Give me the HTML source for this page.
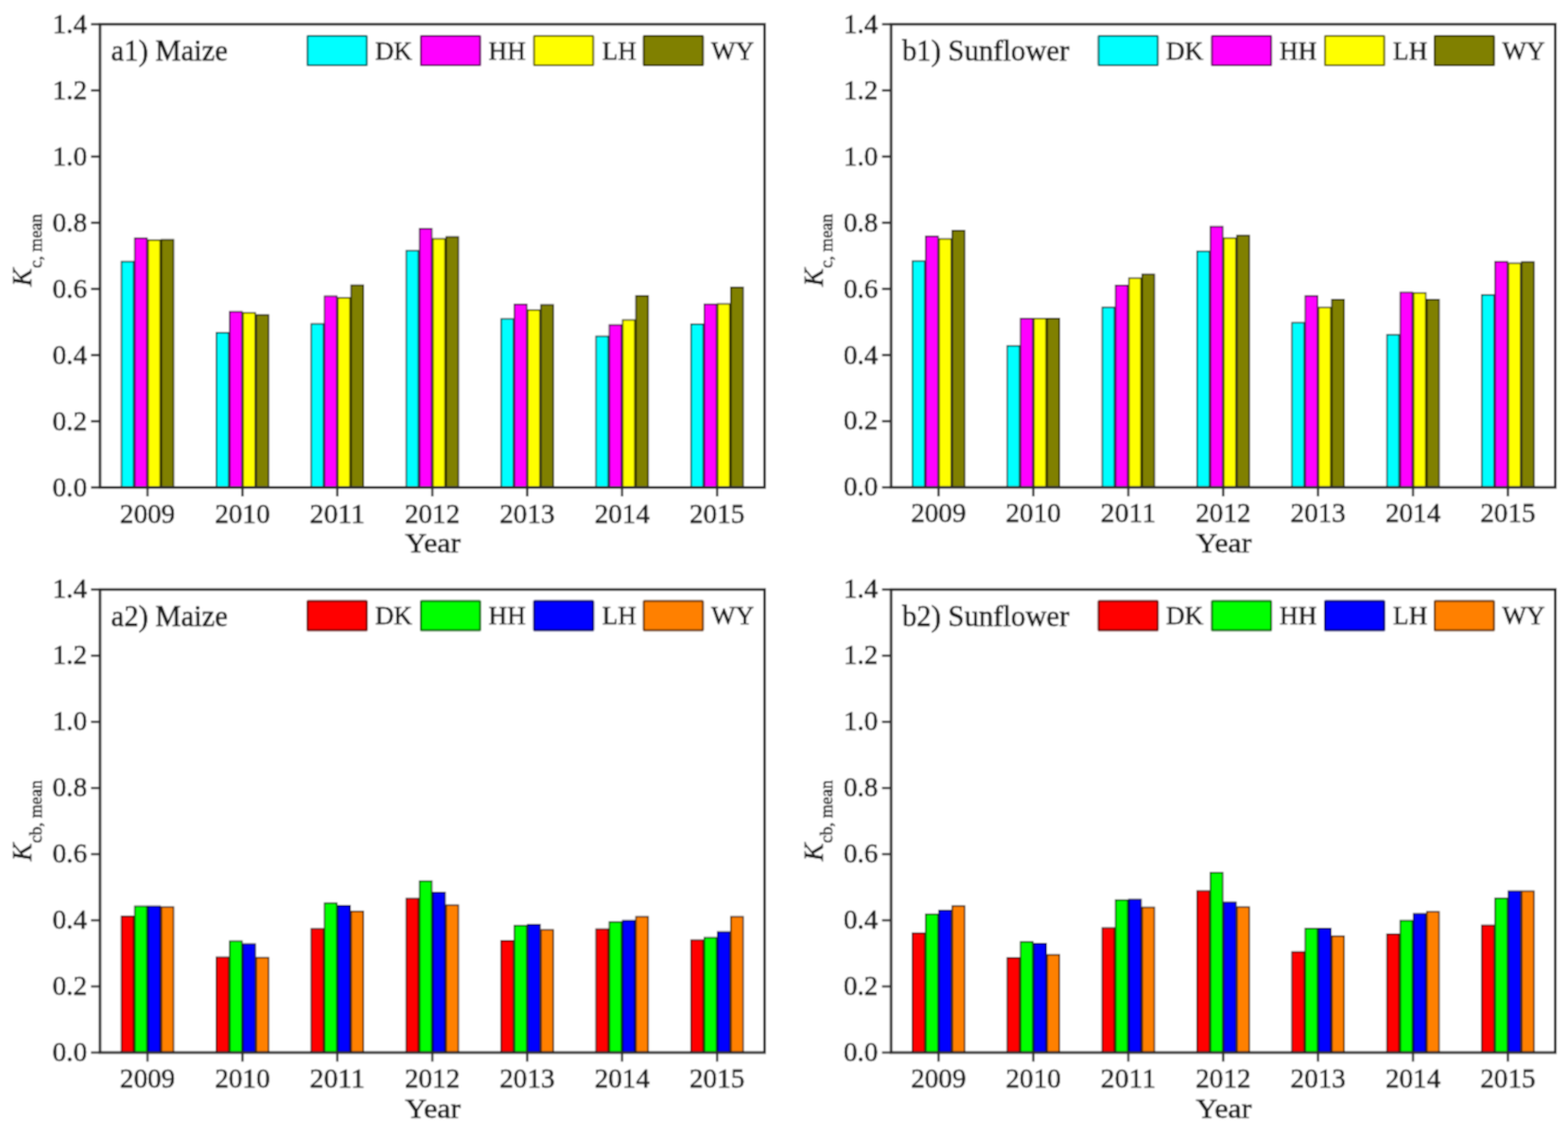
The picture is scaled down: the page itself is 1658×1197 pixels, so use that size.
<!DOCTYPE html>
<html><head><meta charset="utf-8"><title>Kc mean</title>
<style>
html,body{margin:0;padding:0;background:#fff;}
body{width:1658px;height:1197px;overflow:hidden;}
svg{display:block;}
text{font-family:'Liberation Serif', 'Times New Roman', serif;fill:#1a1a1a;stroke:#1a1a1a;stroke-width:0.55px;}
.tl{font-size:29.9px;}
.xt{font-size:30.2px;}
.pt{font-size:31px;}
.lg{font-size:27.2px;}
.yk{font-size:30.5px;font-style:italic;}
.ys{font-size:18.4px;}
.b{stroke-width:1.5;}
.lb{stroke-width:2;}
.fr{fill:none;stroke:#2a2a2a;stroke-width:2.8;}
.tk{stroke:#2a2a2a;stroke-width:2.4;}
</style></head><body>
<svg width="1658" height="1197" viewBox="0 0 1658 1197">
<defs><filter id="bl" x="0" y="0" width="1658" height="1197" filterUnits="userSpaceOnUse"><feConvolveMatrix order="3" kernelMatrix="1 2 1 2 4 2 1 2 1" divisor="16" edgeMode="duplicate"/></filter></defs>
<g filter="url(#bl)">
<rect width="1658" height="1197" fill="#fff"/>
<g><rect x="128.49" y="276.6" width="12.85" height="238.8" fill="#00ffff" stroke="#003f3f" class="b"/><rect x="142.54" y="251.9" width="12.85" height="263.5" fill="#ff00ff" stroke="#3f003f" class="b"/><rect x="156.59" y="253.9" width="12.85" height="261.5" fill="#ffff00" stroke="#3f3f00" class="b"/><rect x="170.64" y="253.5" width="12.85" height="261.9" fill="#808000" stroke="#202000" class="b"/><rect x="228.86" y="351.8" width="12.85" height="163.6" fill="#00ffff" stroke="#003f3f" class="b"/><rect x="242.91" y="329.6" width="12.85" height="185.8" fill="#ff00ff" stroke="#3f003f" class="b"/><rect x="256.96" y="330.7" width="12.85" height="184.7" fill="#ffff00" stroke="#3f3f00" class="b"/><rect x="271.01" y="333.1" width="12.85" height="182.3" fill="#808000" stroke="#202000" class="b"/><rect x="329.23" y="342.5" width="12.85" height="172.9" fill="#00ffff" stroke="#003f3f" class="b"/><rect x="343.28" y="313.3" width="12.85" height="202.1" fill="#ff00ff" stroke="#3f003f" class="b"/><rect x="357.33" y="314.9" width="12.85" height="200.5" fill="#ffff00" stroke="#3f3f00" class="b"/><rect x="371.38" y="301.6" width="12.85" height="213.8" fill="#808000" stroke="#202000" class="b"/><rect x="429.6" y="265.2" width="12.85" height="250.2" fill="#00ffff" stroke="#003f3f" class="b"/><rect x="443.65" y="241.8" width="12.85" height="273.6" fill="#ff00ff" stroke="#3f003f" class="b"/><rect x="457.7" y="252.5" width="12.85" height="262.9" fill="#ffff00" stroke="#3f3f00" class="b"/><rect x="471.75" y="250.5" width="12.85" height="264.9" fill="#808000" stroke="#202000" class="b"/><rect x="529.97" y="337.3" width="12.85" height="178.1" fill="#00ffff" stroke="#003f3f" class="b"/><rect x="544.02" y="321.9" width="12.85" height="193.5" fill="#ff00ff" stroke="#3f003f" class="b"/><rect x="558.07" y="327.8" width="12.85" height="187.6" fill="#ffff00" stroke="#3f3f00" class="b"/><rect x="572.12" y="322.4" width="12.85" height="193" fill="#808000" stroke="#202000" class="b"/><rect x="630.34" y="355.6" width="12.85" height="159.8" fill="#00ffff" stroke="#003f3f" class="b"/><rect x="644.39" y="343.6" width="12.85" height="171.8" fill="#ff00ff" stroke="#3f003f" class="b"/><rect x="658.44" y="338.4" width="12.85" height="177" fill="#ffff00" stroke="#3f3f00" class="b"/><rect x="672.49" y="312.9" width="12.85" height="202.5" fill="#808000" stroke="#202000" class="b"/><rect x="730.71" y="342.8" width="12.85" height="172.6" fill="#00ffff" stroke="#003f3f" class="b"/><rect x="744.76" y="321.7" width="12.85" height="193.7" fill="#ff00ff" stroke="#3f003f" class="b"/><rect x="758.81" y="321.4" width="12.85" height="194" fill="#ffff00" stroke="#3f3f00" class="b"/><rect x="772.86" y="303.9" width="12.85" height="211.5" fill="#808000" stroke="#202000" class="b"/><rect x="105.8" y="25.7" width="702.6" height="489.7" class="fr"/><line x1="96.3" y1="515.4" x2="105.8" y2="515.4" class="tk"/><text x="92" y="524.5" text-anchor="end" class="tl" textLength="36.5" lengthAdjust="spacingAndGlyphs">0.0</text><line x1="96.3" y1="445.44" x2="105.8" y2="445.44" class="tk"/><text x="92" y="454.54" text-anchor="end" class="tl" textLength="36.5" lengthAdjust="spacingAndGlyphs">0.2</text><line x1="96.3" y1="375.49" x2="105.8" y2="375.49" class="tk"/><text x="92" y="384.59" text-anchor="end" class="tl" textLength="36.5" lengthAdjust="spacingAndGlyphs">0.4</text><line x1="96.3" y1="305.53" x2="105.8" y2="305.53" class="tk"/><text x="92" y="314.63" text-anchor="end" class="tl" textLength="36.5" lengthAdjust="spacingAndGlyphs">0.6</text><line x1="96.3" y1="235.57" x2="105.8" y2="235.57" class="tk"/><text x="92" y="244.67" text-anchor="end" class="tl" textLength="36.5" lengthAdjust="spacingAndGlyphs">0.8</text><line x1="96.3" y1="165.61" x2="105.8" y2="165.61" class="tk"/><text x="92" y="174.71" text-anchor="end" class="tl" textLength="36.5" lengthAdjust="spacingAndGlyphs">1.0</text><line x1="96.3" y1="95.66" x2="105.8" y2="95.66" class="tk"/><text x="92" y="104.76" text-anchor="end" class="tl" textLength="36.5" lengthAdjust="spacingAndGlyphs">1.2</text><line x1="96.3" y1="25.7" x2="105.8" y2="25.7" class="tk"/><text x="92" y="34.8" text-anchor="end" class="tl" textLength="36.5" lengthAdjust="spacingAndGlyphs">1.4</text><line x1="155.99" y1="515.4" x2="155.99" y2="524.9" class="tk"/><text x="155.99" y="552.5" text-anchor="middle" class="tl" textLength="58.4" lengthAdjust="spacingAndGlyphs">2009</text><line x1="256.36" y1="515.4" x2="256.36" y2="524.9" class="tk"/><text x="256.36" y="552.5" text-anchor="middle" class="tl" textLength="58.4" lengthAdjust="spacingAndGlyphs">2010</text><line x1="356.73" y1="515.4" x2="356.73" y2="524.9" class="tk"/><text x="356.73" y="552.5" text-anchor="middle" class="tl" textLength="58.4" lengthAdjust="spacingAndGlyphs">2011</text><line x1="457.1" y1="515.4" x2="457.1" y2="524.9" class="tk"/><text x="457.1" y="552.5" text-anchor="middle" class="tl" textLength="58.4" lengthAdjust="spacingAndGlyphs">2012</text><line x1="557.47" y1="515.4" x2="557.47" y2="524.9" class="tk"/><text x="557.47" y="552.5" text-anchor="middle" class="tl" textLength="58.4" lengthAdjust="spacingAndGlyphs">2013</text><line x1="657.84" y1="515.4" x2="657.84" y2="524.9" class="tk"/><text x="657.84" y="552.5" text-anchor="middle" class="tl" textLength="58.4" lengthAdjust="spacingAndGlyphs">2014</text><line x1="758.21" y1="515.4" x2="758.21" y2="524.9" class="tk"/><text x="758.21" y="552.5" text-anchor="middle" class="tl" textLength="58.4" lengthAdjust="spacingAndGlyphs">2015</text><text x="457.7" y="584.3" text-anchor="middle" class="xt" textLength="58.8" lengthAdjust="spacingAndGlyphs">Year</text><text x="117.6" y="64" class="pt" style="font-size:30.6px">a1) Maize</text><rect x="325.2" y="37.9" width="62.6" height="31.1" rx="0.6" fill="#00ffff" stroke="#006b6b" class="lb"/><text x="396.7" y="62.6" class="lg">DK</text><rect x="445.1" y="37.9" width="62.6" height="31.1" rx="0.6" fill="#ff00ff" stroke="#6b006b" class="lb"/><text x="516.6" y="62.6" class="lg">HH</text><rect x="564.7" y="37.9" width="62.6" height="31.1" rx="0.6" fill="#ffff00" stroke="#6b6b00" class="lb"/><text x="636.7" y="62.6" class="lg">LH</text><rect x="680.7" y="37.9" width="62.6" height="31.1" rx="0.6" fill="#808000" stroke="#353500" class="lb"/><text x="752" y="62.6" class="lg">WY</text><text transform="translate(33.3 302.7) rotate(-90) scale(0.93 1)" class="yk">K</text><text transform="translate(43.6 283.5) rotate(-90)" class="ys">c, mean</text></g>
<g><rect x="964.87" y="276.2" width="12.85" height="239.1" fill="#00ffff" stroke="#003f3f" class="b"/><rect x="978.92" y="249.9" width="12.85" height="265.4" fill="#ff00ff" stroke="#3f003f" class="b"/><rect x="992.97" y="252.6" width="12.85" height="262.7" fill="#ffff00" stroke="#3f3f00" class="b"/><rect x="1007.02" y="243.9" width="12.85" height="271.4" fill="#808000" stroke="#202000" class="b"/><rect x="1065.21" y="365.7" width="12.85" height="149.6" fill="#00ffff" stroke="#003f3f" class="b"/><rect x="1079.26" y="336.8" width="12.85" height="178.5" fill="#ff00ff" stroke="#3f003f" class="b"/><rect x="1093.31" y="336.8" width="12.85" height="178.5" fill="#ffff00" stroke="#3f3f00" class="b"/><rect x="1107.36" y="336.8" width="12.85" height="178.5" fill="#808000" stroke="#202000" class="b"/><rect x="1165.56" y="325.1" width="12.85" height="190.2" fill="#00ffff" stroke="#003f3f" class="b"/><rect x="1179.61" y="301.8" width="12.85" height="213.5" fill="#ff00ff" stroke="#3f003f" class="b"/><rect x="1193.66" y="294.2" width="12.85" height="221.1" fill="#ffff00" stroke="#3f3f00" class="b"/><rect x="1207.71" y="290.2" width="12.85" height="225.1" fill="#808000" stroke="#202000" class="b"/><rect x="1265.9" y="265.7" width="12.85" height="249.6" fill="#00ffff" stroke="#003f3f" class="b"/><rect x="1279.95" y="239.6" width="12.85" height="275.7" fill="#ff00ff" stroke="#3f003f" class="b"/><rect x="1294" y="251.7" width="12.85" height="263.6" fill="#ffff00" stroke="#3f3f00" class="b"/><rect x="1308.05" y="249.1" width="12.85" height="266.2" fill="#808000" stroke="#202000" class="b"/><rect x="1366.24" y="341.3" width="12.85" height="174" fill="#00ffff" stroke="#003f3f" class="b"/><rect x="1380.29" y="313" width="12.85" height="202.3" fill="#ff00ff" stroke="#3f003f" class="b"/><rect x="1394.34" y="325.2" width="12.85" height="190.1" fill="#ffff00" stroke="#3f3f00" class="b"/><rect x="1408.39" y="316.8" width="12.85" height="198.5" fill="#808000" stroke="#202000" class="b"/><rect x="1466.59" y="354.1" width="12.85" height="161.2" fill="#00ffff" stroke="#003f3f" class="b"/><rect x="1480.64" y="309.3" width="12.85" height="206" fill="#ff00ff" stroke="#3f003f" class="b"/><rect x="1494.69" y="309.7" width="12.85" height="205.6" fill="#ffff00" stroke="#3f3f00" class="b"/><rect x="1508.74" y="316.8" width="12.85" height="198.5" fill="#808000" stroke="#202000" class="b"/><rect x="1566.93" y="311.8" width="12.85" height="203.5" fill="#00ffff" stroke="#003f3f" class="b"/><rect x="1580.98" y="276.7" width="12.85" height="238.6" fill="#ff00ff" stroke="#3f003f" class="b"/><rect x="1595.03" y="278.4" width="12.85" height="236.9" fill="#ffff00" stroke="#3f3f00" class="b"/><rect x="1609.08" y="277.1" width="12.85" height="238.2" fill="#808000" stroke="#202000" class="b"/><rect x="942.2" y="25.7" width="702.4" height="489.6" class="fr"/><line x1="932.7" y1="515.3" x2="942.2" y2="515.3" class="tk"/><text x="928.4" y="524.4" text-anchor="end" class="tl" textLength="36.5" lengthAdjust="spacingAndGlyphs">0.0</text><line x1="932.7" y1="445.36" x2="942.2" y2="445.36" class="tk"/><text x="928.4" y="454.46" text-anchor="end" class="tl" textLength="36.5" lengthAdjust="spacingAndGlyphs">0.2</text><line x1="932.7" y1="375.41" x2="942.2" y2="375.41" class="tk"/><text x="928.4" y="384.51" text-anchor="end" class="tl" textLength="36.5" lengthAdjust="spacingAndGlyphs">0.4</text><line x1="932.7" y1="305.47" x2="942.2" y2="305.47" class="tk"/><text x="928.4" y="314.57" text-anchor="end" class="tl" textLength="36.5" lengthAdjust="spacingAndGlyphs">0.6</text><line x1="932.7" y1="235.53" x2="942.2" y2="235.53" class="tk"/><text x="928.4" y="244.63" text-anchor="end" class="tl" textLength="36.5" lengthAdjust="spacingAndGlyphs">0.8</text><line x1="932.7" y1="165.59" x2="942.2" y2="165.59" class="tk"/><text x="928.4" y="174.69" text-anchor="end" class="tl" textLength="36.5" lengthAdjust="spacingAndGlyphs">1.0</text><line x1="932.7" y1="95.64" x2="942.2" y2="95.64" class="tk"/><text x="928.4" y="104.74" text-anchor="end" class="tl" textLength="36.5" lengthAdjust="spacingAndGlyphs">1.2</text><line x1="932.7" y1="25.7" x2="942.2" y2="25.7" class="tk"/><text x="928.4" y="34.8" text-anchor="end" class="tl" textLength="36.5" lengthAdjust="spacingAndGlyphs">1.4</text><line x1="992.37" y1="515.3" x2="992.37" y2="524.8" class="tk"/><text x="992.37" y="552.4" text-anchor="middle" class="tl" textLength="58.4" lengthAdjust="spacingAndGlyphs">2009</text><line x1="1092.71" y1="515.3" x2="1092.71" y2="524.8" class="tk"/><text x="1092.71" y="552.4" text-anchor="middle" class="tl" textLength="58.4" lengthAdjust="spacingAndGlyphs">2010</text><line x1="1193.06" y1="515.3" x2="1193.06" y2="524.8" class="tk"/><text x="1193.06" y="552.4" text-anchor="middle" class="tl" textLength="58.4" lengthAdjust="spacingAndGlyphs">2011</text><line x1="1293.4" y1="515.3" x2="1293.4" y2="524.8" class="tk"/><text x="1293.4" y="552.4" text-anchor="middle" class="tl" textLength="58.4" lengthAdjust="spacingAndGlyphs">2012</text><line x1="1393.74" y1="515.3" x2="1393.74" y2="524.8" class="tk"/><text x="1393.74" y="552.4" text-anchor="middle" class="tl" textLength="58.4" lengthAdjust="spacingAndGlyphs">2013</text><line x1="1494.09" y1="515.3" x2="1494.09" y2="524.8" class="tk"/><text x="1494.09" y="552.4" text-anchor="middle" class="tl" textLength="58.4" lengthAdjust="spacingAndGlyphs">2014</text><line x1="1594.43" y1="515.3" x2="1594.43" y2="524.8" class="tk"/><text x="1594.43" y="552.4" text-anchor="middle" class="tl" textLength="58.4" lengthAdjust="spacingAndGlyphs">2015</text><text x="1294" y="584.2" text-anchor="middle" class="xt" textLength="58.8" lengthAdjust="spacingAndGlyphs">Year</text><text x="954" y="64" class="pt" style="font-size:30.7px">b1) Sunflower</text><rect x="1161.6" y="37.9" width="62.6" height="31.1" rx="0.6" fill="#00ffff" stroke="#006b6b" class="lb"/><text x="1233.1" y="62.6" class="lg">DK</text><rect x="1281.5" y="37.9" width="62.6" height="31.1" rx="0.6" fill="#ff00ff" stroke="#6b006b" class="lb"/><text x="1353" y="62.6" class="lg">HH</text><rect x="1401.1" y="37.9" width="62.6" height="31.1" rx="0.6" fill="#ffff00" stroke="#6b6b00" class="lb"/><text x="1473.1" y="62.6" class="lg">LH</text><rect x="1517.1" y="37.9" width="62.6" height="31.1" rx="0.6" fill="#808000" stroke="#353500" class="lb"/><text x="1588.4" y="62.6" class="lg">WY</text><text transform="translate(869.7 302.7) rotate(-90) scale(0.93 1)" class="yk">K</text><text transform="translate(880 283.5) rotate(-90)" class="ys">c, mean</text></g>
<g><rect x="128.49" y="969" width="12.85" height="144" fill="#ff0000" stroke="#3f0000" class="b"/><rect x="142.54" y="958.4" width="12.85" height="154.6" fill="#00ff00" stroke="#003f00" class="b"/><rect x="156.59" y="958.4" width="12.85" height="154.6" fill="#0000ff" stroke="#00003f" class="b"/><rect x="170.64" y="959.2" width="12.85" height="153.8" fill="#ff8000" stroke="#3f2000" class="b"/><rect x="228.86" y="1012.3" width="12.85" height="100.7" fill="#ff0000" stroke="#3f0000" class="b"/><rect x="242.91" y="995.3" width="12.85" height="117.7" fill="#00ff00" stroke="#003f00" class="b"/><rect x="256.96" y="998.3" width="12.85" height="114.7" fill="#0000ff" stroke="#00003f" class="b"/><rect x="271.01" y="1012.6" width="12.85" height="100.4" fill="#ff8000" stroke="#3f2000" class="b"/><rect x="329.23" y="982.2" width="12.85" height="130.8" fill="#ff0000" stroke="#3f0000" class="b"/><rect x="343.28" y="955.1" width="12.85" height="157.9" fill="#00ff00" stroke="#003f00" class="b"/><rect x="357.33" y="957.7" width="12.85" height="155.3" fill="#0000ff" stroke="#00003f" class="b"/><rect x="371.38" y="963.7" width="12.85" height="149.3" fill="#ff8000" stroke="#3f2000" class="b"/><rect x="429.6" y="950.2" width="12.85" height="162.8" fill="#ff0000" stroke="#3f0000" class="b"/><rect x="443.65" y="931.7" width="12.85" height="181.3" fill="#00ff00" stroke="#003f00" class="b"/><rect x="457.7" y="943.7" width="12.85" height="169.3" fill="#0000ff" stroke="#00003f" class="b"/><rect x="471.75" y="957.2" width="12.85" height="155.8" fill="#ff8000" stroke="#3f2000" class="b"/><rect x="529.97" y="994.8" width="12.85" height="118.2" fill="#ff0000" stroke="#3f0000" class="b"/><rect x="544.02" y="978.7" width="12.85" height="134.3" fill="#00ff00" stroke="#003f00" class="b"/><rect x="558.07" y="977.7" width="12.85" height="135.3" fill="#0000ff" stroke="#00003f" class="b"/><rect x="572.12" y="983.3" width="12.85" height="129.7" fill="#ff8000" stroke="#3f2000" class="b"/><rect x="630.34" y="982.5" width="12.85" height="130.5" fill="#ff0000" stroke="#3f0000" class="b"/><rect x="644.39" y="975" width="12.85" height="138" fill="#00ff00" stroke="#003f00" class="b"/><rect x="658.44" y="973.5" width="12.85" height="139.5" fill="#0000ff" stroke="#00003f" class="b"/><rect x="672.49" y="969.4" width="12.85" height="143.6" fill="#ff8000" stroke="#3f2000" class="b"/><rect x="730.71" y="994.2" width="12.85" height="118.8" fill="#ff0000" stroke="#3f0000" class="b"/><rect x="744.76" y="991.5" width="12.85" height="121.5" fill="#00ff00" stroke="#003f00" class="b"/><rect x="758.81" y="985.5" width="12.85" height="127.5" fill="#0000ff" stroke="#00003f" class="b"/><rect x="772.86" y="969.4" width="12.85" height="143.6" fill="#ff8000" stroke="#3f2000" class="b"/><rect x="105.8" y="623.3" width="702.6" height="489.7" class="fr"/><line x1="96.3" y1="1113" x2="105.8" y2="1113" class="tk"/><text x="92" y="1122.1" text-anchor="end" class="tl" textLength="36.5" lengthAdjust="spacingAndGlyphs">0.0</text><line x1="96.3" y1="1043.04" x2="105.8" y2="1043.04" class="tk"/><text x="92" y="1052.14" text-anchor="end" class="tl" textLength="36.5" lengthAdjust="spacingAndGlyphs">0.2</text><line x1="96.3" y1="973.09" x2="105.8" y2="973.09" class="tk"/><text x="92" y="982.19" text-anchor="end" class="tl" textLength="36.5" lengthAdjust="spacingAndGlyphs">0.4</text><line x1="96.3" y1="903.13" x2="105.8" y2="903.13" class="tk"/><text x="92" y="912.23" text-anchor="end" class="tl" textLength="36.5" lengthAdjust="spacingAndGlyphs">0.6</text><line x1="96.3" y1="833.17" x2="105.8" y2="833.17" class="tk"/><text x="92" y="842.27" text-anchor="end" class="tl" textLength="36.5" lengthAdjust="spacingAndGlyphs">0.8</text><line x1="96.3" y1="763.21" x2="105.8" y2="763.21" class="tk"/><text x="92" y="772.31" text-anchor="end" class="tl" textLength="36.5" lengthAdjust="spacingAndGlyphs">1.0</text><line x1="96.3" y1="693.26" x2="105.8" y2="693.26" class="tk"/><text x="92" y="702.36" text-anchor="end" class="tl" textLength="36.5" lengthAdjust="spacingAndGlyphs">1.2</text><line x1="96.3" y1="623.3" x2="105.8" y2="623.3" class="tk"/><text x="92" y="632.4" text-anchor="end" class="tl" textLength="36.5" lengthAdjust="spacingAndGlyphs">1.4</text><line x1="155.99" y1="1113" x2="155.99" y2="1122.5" class="tk"/><text x="155.99" y="1150.1" text-anchor="middle" class="tl" textLength="58.4" lengthAdjust="spacingAndGlyphs">2009</text><line x1="256.36" y1="1113" x2="256.36" y2="1122.5" class="tk"/><text x="256.36" y="1150.1" text-anchor="middle" class="tl" textLength="58.4" lengthAdjust="spacingAndGlyphs">2010</text><line x1="356.73" y1="1113" x2="356.73" y2="1122.5" class="tk"/><text x="356.73" y="1150.1" text-anchor="middle" class="tl" textLength="58.4" lengthAdjust="spacingAndGlyphs">2011</text><line x1="457.1" y1="1113" x2="457.1" y2="1122.5" class="tk"/><text x="457.1" y="1150.1" text-anchor="middle" class="tl" textLength="58.4" lengthAdjust="spacingAndGlyphs">2012</text><line x1="557.47" y1="1113" x2="557.47" y2="1122.5" class="tk"/><text x="557.47" y="1150.1" text-anchor="middle" class="tl" textLength="58.4" lengthAdjust="spacingAndGlyphs">2013</text><line x1="657.84" y1="1113" x2="657.84" y2="1122.5" class="tk"/><text x="657.84" y="1150.1" text-anchor="middle" class="tl" textLength="58.4" lengthAdjust="spacingAndGlyphs">2014</text><line x1="758.21" y1="1113" x2="758.21" y2="1122.5" class="tk"/><text x="758.21" y="1150.1" text-anchor="middle" class="tl" textLength="58.4" lengthAdjust="spacingAndGlyphs">2015</text><text x="457.7" y="1181.9" text-anchor="middle" class="xt" textLength="58.8" lengthAdjust="spacingAndGlyphs">Year</text><text x="117.6" y="661.6" class="pt" style="font-size:30.6px">a2) Maize</text><rect x="325.2" y="635.5" width="62.6" height="31.1" rx="0.6" fill="#ff0000" stroke="#6b0000" class="lb"/><text x="396.7" y="660.2" class="lg">DK</text><rect x="445.1" y="635.5" width="62.6" height="31.1" rx="0.6" fill="#00ff00" stroke="#006b00" class="lb"/><text x="516.6" y="660.2" class="lg">HH</text><rect x="564.7" y="635.5" width="62.6" height="31.1" rx="0.6" fill="#0000ff" stroke="#00006b" class="lb"/><text x="636.7" y="660.2" class="lg">LH</text><rect x="680.7" y="635.5" width="62.6" height="31.1" rx="0.6" fill="#ff8000" stroke="#6b3500" class="lb"/><text x="752" y="660.2" class="lg">WY</text><text transform="translate(33.3 910.4) rotate(-90) scale(0.93 1)" class="yk">K</text><text transform="translate(43.6 891.5) rotate(-90)" class="ys">cb, mean</text></g>
<g><rect x="964.87" y="986.7" width="12.85" height="126.3" fill="#ff0000" stroke="#3f0000" class="b"/><rect x="978.92" y="966.7" width="12.85" height="146.3" fill="#00ff00" stroke="#003f00" class="b"/><rect x="992.97" y="962.7" width="12.85" height="150.3" fill="#0000ff" stroke="#00003f" class="b"/><rect x="1007.02" y="958.1" width="12.85" height="154.9" fill="#ff8000" stroke="#3f2000" class="b"/><rect x="1065.21" y="1012.9" width="12.85" height="100.1" fill="#ff0000" stroke="#3f0000" class="b"/><rect x="1079.26" y="996" width="12.85" height="117" fill="#00ff00" stroke="#003f00" class="b"/><rect x="1093.31" y="997.8" width="12.85" height="115.2" fill="#0000ff" stroke="#00003f" class="b"/><rect x="1107.36" y="1009.6" width="12.85" height="103.4" fill="#ff8000" stroke="#3f2000" class="b"/><rect x="1165.56" y="981.3" width="12.85" height="131.7" fill="#ff0000" stroke="#3f0000" class="b"/><rect x="1179.61" y="951.7" width="12.85" height="161.3" fill="#00ff00" stroke="#003f00" class="b"/><rect x="1193.66" y="951.2" width="12.85" height="161.8" fill="#0000ff" stroke="#00003f" class="b"/><rect x="1207.71" y="959.5" width="12.85" height="153.5" fill="#ff8000" stroke="#3f2000" class="b"/><rect x="1265.9" y="942.2" width="12.85" height="170.8" fill="#ff0000" stroke="#3f0000" class="b"/><rect x="1279.95" y="922.7" width="12.85" height="190.3" fill="#00ff00" stroke="#003f00" class="b"/><rect x="1294" y="954.2" width="12.85" height="158.8" fill="#0000ff" stroke="#00003f" class="b"/><rect x="1308.05" y="959.2" width="12.85" height="153.8" fill="#ff8000" stroke="#3f2000" class="b"/><rect x="1366.24" y="1006.6" width="12.85" height="106.4" fill="#ff0000" stroke="#3f0000" class="b"/><rect x="1380.29" y="981.8" width="12.85" height="131.2" fill="#00ff00" stroke="#003f00" class="b"/><rect x="1394.34" y="981.8" width="12.85" height="131.2" fill="#0000ff" stroke="#00003f" class="b"/><rect x="1408.39" y="990" width="12.85" height="123" fill="#ff8000" stroke="#3f2000" class="b"/><rect x="1466.59" y="987.8" width="12.85" height="125.2" fill="#ff0000" stroke="#3f0000" class="b"/><rect x="1480.64" y="973.5" width="12.85" height="139.5" fill="#00ff00" stroke="#003f00" class="b"/><rect x="1494.69" y="966.3" width="12.85" height="146.7" fill="#0000ff" stroke="#00003f" class="b"/><rect x="1508.74" y="964.2" width="12.85" height="148.8" fill="#ff8000" stroke="#3f2000" class="b"/><rect x="1566.93" y="978.5" width="12.85" height="134.5" fill="#ff0000" stroke="#3f0000" class="b"/><rect x="1580.98" y="949.9" width="12.85" height="163.1" fill="#00ff00" stroke="#003f00" class="b"/><rect x="1595.03" y="942.4" width="12.85" height="170.6" fill="#0000ff" stroke="#00003f" class="b"/><rect x="1609.08" y="942.4" width="12.85" height="170.6" fill="#ff8000" stroke="#3f2000" class="b"/><rect x="942.2" y="623.3" width="702.4" height="489.7" class="fr"/><line x1="932.7" y1="1113" x2="942.2" y2="1113" class="tk"/><text x="928.4" y="1122.1" text-anchor="end" class="tl" textLength="36.5" lengthAdjust="spacingAndGlyphs">0.0</text><line x1="932.7" y1="1043.04" x2="942.2" y2="1043.04" class="tk"/><text x="928.4" y="1052.14" text-anchor="end" class="tl" textLength="36.5" lengthAdjust="spacingAndGlyphs">0.2</text><line x1="932.7" y1="973.09" x2="942.2" y2="973.09" class="tk"/><text x="928.4" y="982.19" text-anchor="end" class="tl" textLength="36.5" lengthAdjust="spacingAndGlyphs">0.4</text><line x1="932.7" y1="903.13" x2="942.2" y2="903.13" class="tk"/><text x="928.4" y="912.23" text-anchor="end" class="tl" textLength="36.5" lengthAdjust="spacingAndGlyphs">0.6</text><line x1="932.7" y1="833.17" x2="942.2" y2="833.17" class="tk"/><text x="928.4" y="842.27" text-anchor="end" class="tl" textLength="36.5" lengthAdjust="spacingAndGlyphs">0.8</text><line x1="932.7" y1="763.21" x2="942.2" y2="763.21" class="tk"/><text x="928.4" y="772.31" text-anchor="end" class="tl" textLength="36.5" lengthAdjust="spacingAndGlyphs">1.0</text><line x1="932.7" y1="693.26" x2="942.2" y2="693.26" class="tk"/><text x="928.4" y="702.36" text-anchor="end" class="tl" textLength="36.5" lengthAdjust="spacingAndGlyphs">1.2</text><line x1="932.7" y1="623.3" x2="942.2" y2="623.3" class="tk"/><text x="928.4" y="632.4" text-anchor="end" class="tl" textLength="36.5" lengthAdjust="spacingAndGlyphs">1.4</text><line x1="992.37" y1="1113" x2="992.37" y2="1122.5" class="tk"/><text x="992.37" y="1150.1" text-anchor="middle" class="tl" textLength="58.4" lengthAdjust="spacingAndGlyphs">2009</text><line x1="1092.71" y1="1113" x2="1092.71" y2="1122.5" class="tk"/><text x="1092.71" y="1150.1" text-anchor="middle" class="tl" textLength="58.4" lengthAdjust="spacingAndGlyphs">2010</text><line x1="1193.06" y1="1113" x2="1193.06" y2="1122.5" class="tk"/><text x="1193.06" y="1150.1" text-anchor="middle" class="tl" textLength="58.4" lengthAdjust="spacingAndGlyphs">2011</text><line x1="1293.4" y1="1113" x2="1293.4" y2="1122.5" class="tk"/><text x="1293.4" y="1150.1" text-anchor="middle" class="tl" textLength="58.4" lengthAdjust="spacingAndGlyphs">2012</text><line x1="1393.74" y1="1113" x2="1393.74" y2="1122.5" class="tk"/><text x="1393.74" y="1150.1" text-anchor="middle" class="tl" textLength="58.4" lengthAdjust="spacingAndGlyphs">2013</text><line x1="1494.09" y1="1113" x2="1494.09" y2="1122.5" class="tk"/><text x="1494.09" y="1150.1" text-anchor="middle" class="tl" textLength="58.4" lengthAdjust="spacingAndGlyphs">2014</text><line x1="1594.43" y1="1113" x2="1594.43" y2="1122.5" class="tk"/><text x="1594.43" y="1150.1" text-anchor="middle" class="tl" textLength="58.4" lengthAdjust="spacingAndGlyphs">2015</text><text x="1294" y="1181.9" text-anchor="middle" class="xt" textLength="58.8" lengthAdjust="spacingAndGlyphs">Year</text><text x="954" y="661.6" class="pt" style="font-size:30.7px">b2) Sunflower</text><rect x="1161.6" y="635.5" width="62.6" height="31.1" rx="0.6" fill="#ff0000" stroke="#6b0000" class="lb"/><text x="1233.1" y="660.2" class="lg">DK</text><rect x="1281.5" y="635.5" width="62.6" height="31.1" rx="0.6" fill="#00ff00" stroke="#006b00" class="lb"/><text x="1353" y="660.2" class="lg">HH</text><rect x="1401.1" y="635.5" width="62.6" height="31.1" rx="0.6" fill="#0000ff" stroke="#00006b" class="lb"/><text x="1473.1" y="660.2" class="lg">LH</text><rect x="1517.1" y="635.5" width="62.6" height="31.1" rx="0.6" fill="#ff8000" stroke="#6b3500" class="lb"/><text x="1588.4" y="660.2" class="lg">WY</text><text transform="translate(869.7 910.4) rotate(-90) scale(0.93 1)" class="yk">K</text><text transform="translate(880 891.5) rotate(-90)" class="ys">cb, mean</text></g>
</g>
</svg></body></html>
